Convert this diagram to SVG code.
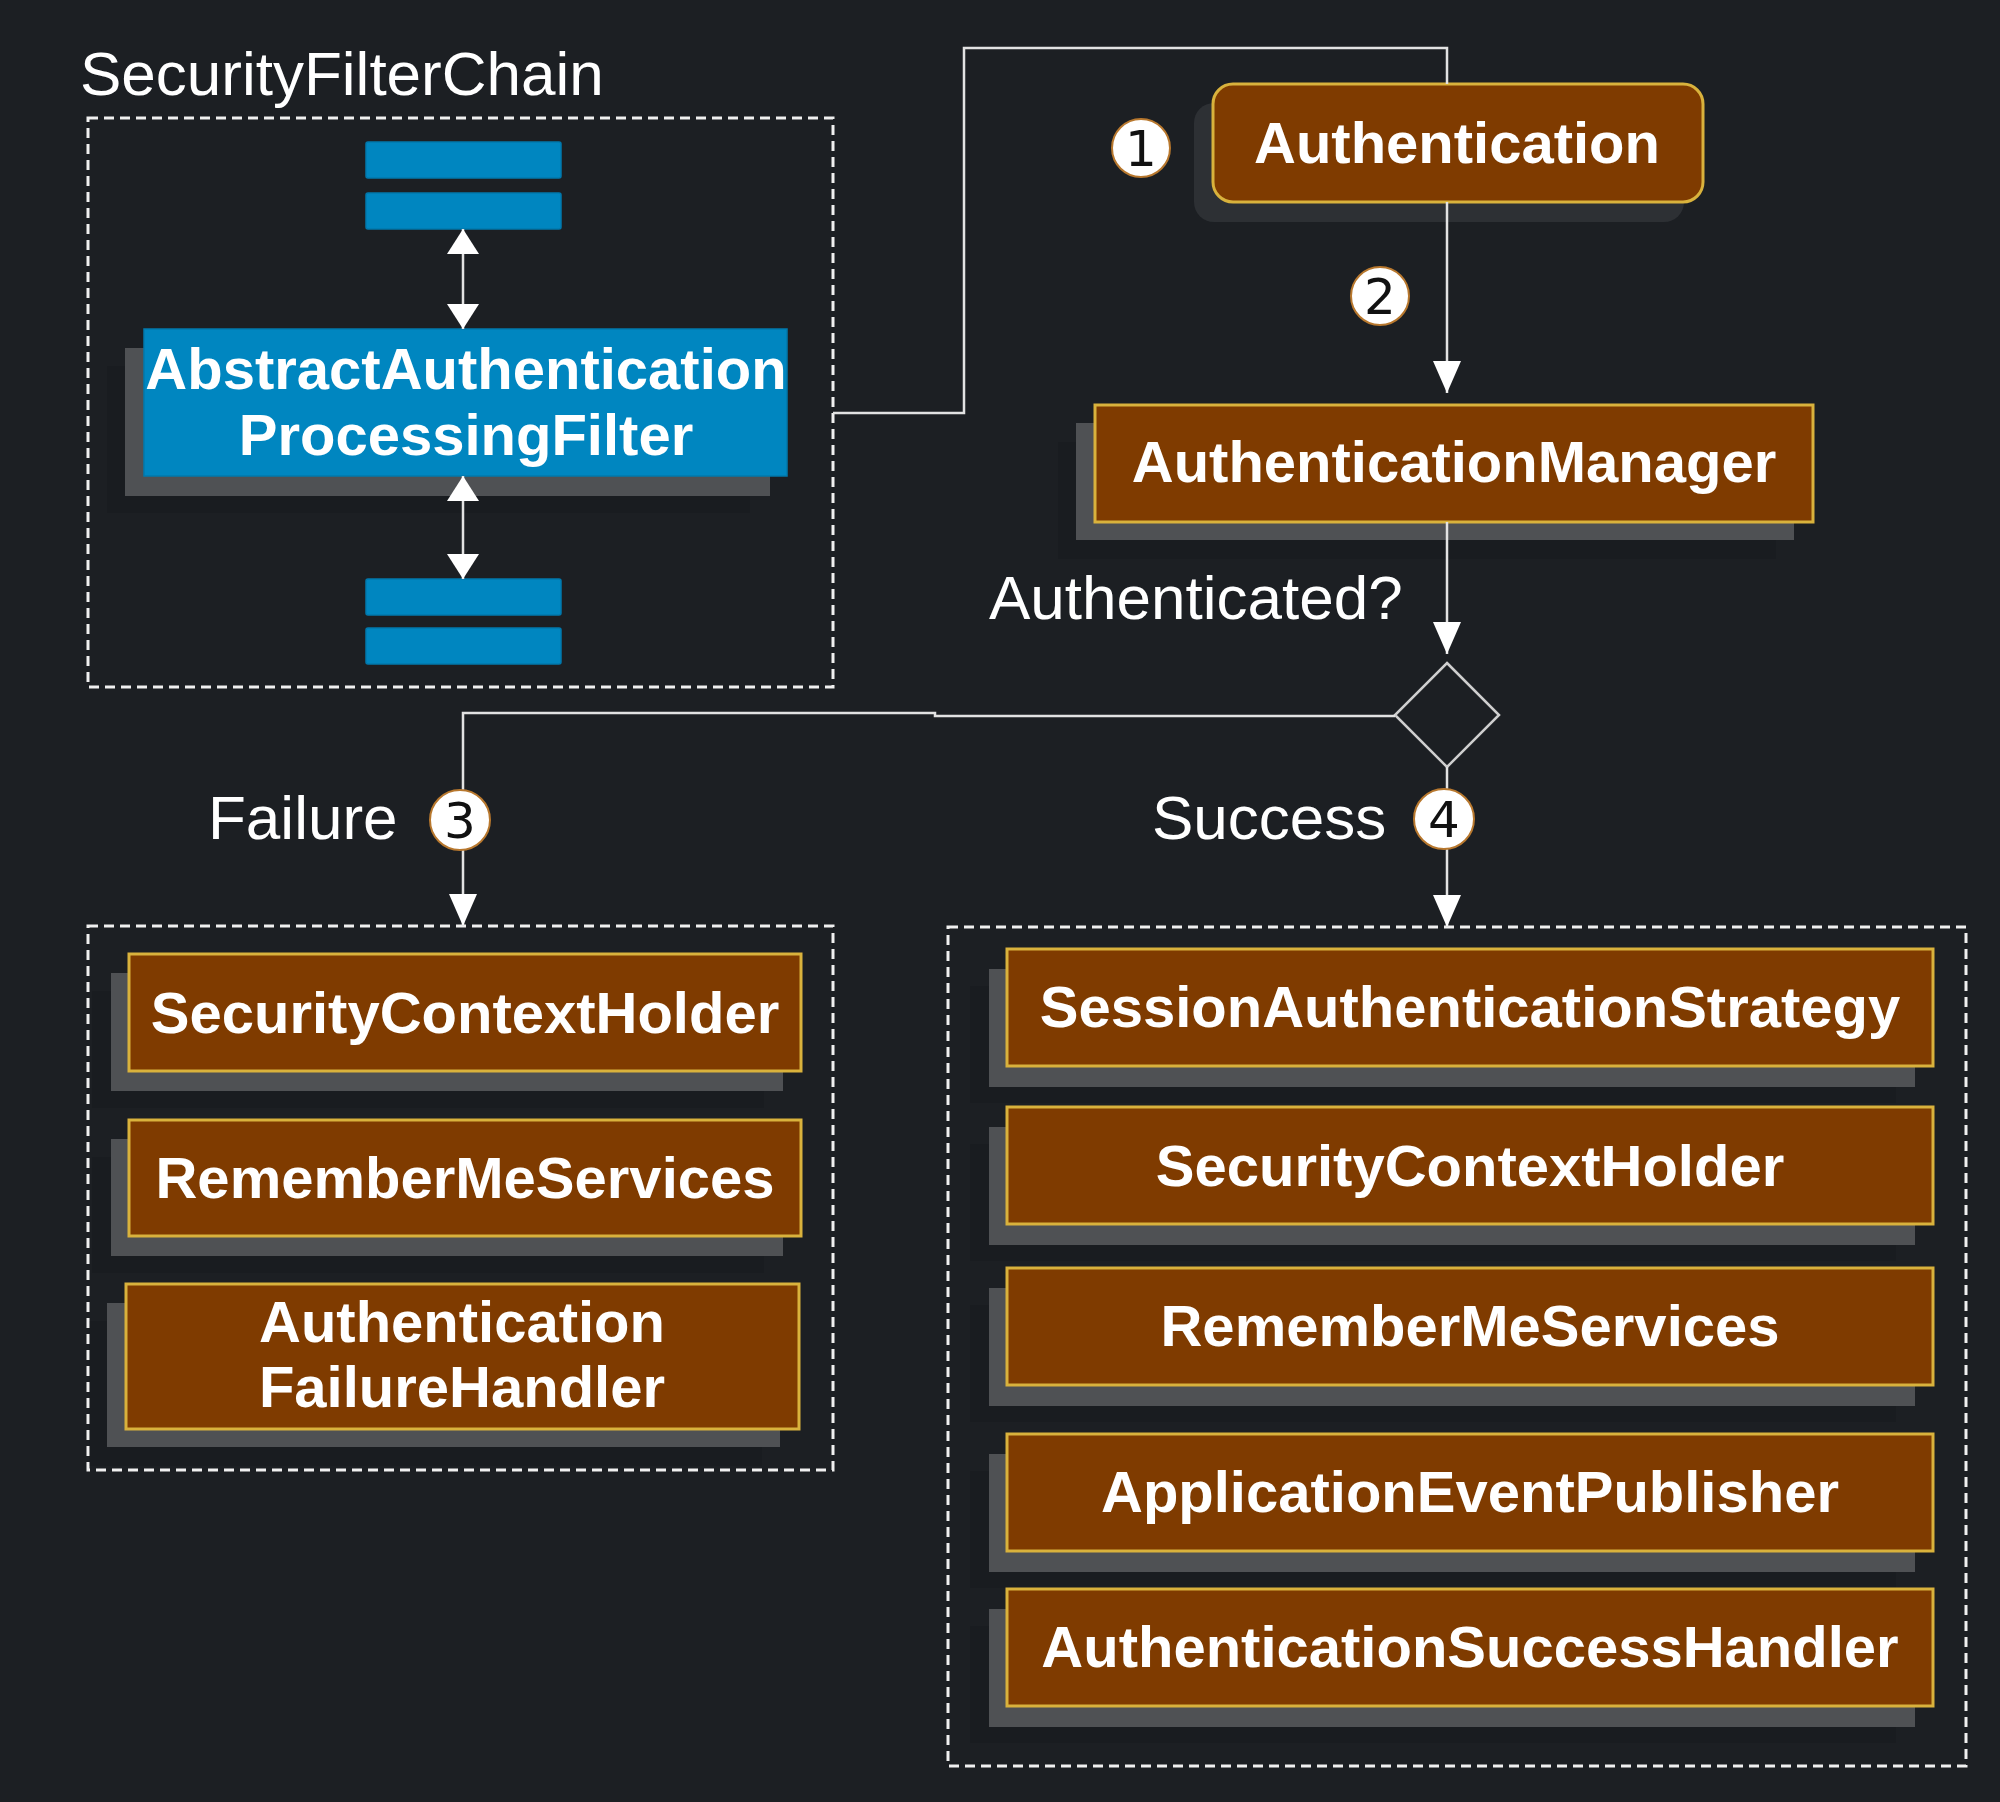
<svg xmlns="http://www.w3.org/2000/svg" width="2000" height="1802" viewBox="0 0 2000 1802">
<defs>
<style>
.bg{fill:#1c1f23}
.cont{fill:none;stroke:#f0f0f0;stroke-width:3;stroke-dasharray:10 6}
.blue{fill:#0086c0;stroke:#0079ad;stroke-width:1.5}
.brown{fill:#7f3b00;stroke:#d9b23c;stroke-width:3}
.sh{fill:#4f5154}
.sh2{fill:#2d3034}
.faint{fill:#000;opacity:0.08}
.lbl{font-family:"Liberation Sans",Arial,sans-serif;font-size:58px;font-weight:bold;fill:#ffffff;text-anchor:middle}
.title{font-family:"Liberation Sans",Arial,sans-serif;font-size:62px;fill:#ffffff}
.conn{fill:none;stroke:#e2e2e2;stroke-width:2.5}
.num{fill:#ffffff;stroke:#b8782e;stroke-width:2}
.numt{font-family:"DejaVu Sans",sans-serif;font-size:50px;fill:#111111;text-anchor:middle}
</style>
<marker id="arr" markerUnits="userSpaceOnUse" markerWidth="34" markerHeight="30" refX="32" refY="14" orient="auto">
<path d="M0,0 L32,14 L0,28 z" fill="#ffffff"/>
</marker>
<marker id="dbl" markerUnits="userSpaceOnUse" markerWidth="27" markerHeight="34" refX="25" refY="16" orient="auto-start-reverse">
<path d="M0,0 L25,16 L0,32 z" fill="#ffffff"/>
</marker>
</defs>
<rect class="bg" x="0" y="0" width="2000" height="1802"/>

<text class="title" x="80" y="95">SecurityFilterChain</text>
<rect id="chain" class="cont" x="88" y="118" width="745" height="569"/>
<rect id="failure-group" class="cont" x="88" y="926" width="745" height="544"/>
<rect id="success-group" class="cont" x="948" y="927" width="1018" height="839"/>

<g id="filter-top1"><rect class="blue" x="366" y="142" width="195" height="36" rx="2"/></g>
<g id="filter-top2"><rect class="blue" x="366" y="193" width="195" height="36" rx="2"/></g>
<g id="filter-bot1"><rect class="blue" x="366" y="579" width="195" height="36" rx="2"/></g>
<g id="filter-bot2"><rect class="blue" x="366" y="628" width="195" height="36" rx="2"/></g>

<g id="aapf">
<rect class="faint" x="107" y="366" width="643" height="147"/>
<rect class="sh" x="125" y="348" width="645" height="148"/>
<rect class="blue" x="144" y="329" width="643" height="147"/>
<text class="lbl" x="466" y="389">AbstractAuthentication</text>
<text class="lbl" x="466" y="455">ProcessingFilter</text>
</g>

<g id="authentication">
<rect class="sh2" x="1194" y="103" width="490" height="119" rx="20"/>
<rect class="brown" x="1213" y="84" width="490" height="118" rx="20"/>
<text class="lbl" x="1457" y="163">Authentication</text>
</g>

<g id="auth-manager">
<rect class="faint" x="1058" y="442" width="718" height="117"/>
<rect class="sh" x="1076" y="423" width="718" height="117"/>
<rect class="brown" x="1095" y="405" width="718" height="117"/>
<text class="lbl" x="1454" y="482">AuthenticationManager</text>
</g>

<text class="title" x="989" y="619">Authenticated?</text>
<g id="decision"><polygon points="1447,663 1499,715 1447,767 1395,715" fill="#1c1f23" stroke="#cfcfcf" stroke-width="2.5"/></g>

<g id="connectors">
<line class="conn" x1="463" y1="229" x2="463" y2="329" marker-start="url(#dbl)" marker-end="url(#dbl)"/>
<line class="conn" x1="463" y1="476" x2="463" y2="579" marker-start="url(#dbl)" marker-end="url(#dbl)"/>
<path class="conn" d="M833,413 H964 V48 H1447 V84"/>
<path class="conn" d="M1447,202 V393" marker-end="url(#arr)"/>
<path class="conn" d="M1447,522 V654" marker-end="url(#arr)"/>
<path class="conn" d="M1395,716 H935 V713 H463 V926" marker-end="url(#arr)"/>
<path class="conn" d="M1447,767 V927" marker-end="url(#arr)"/>
</g>

<text class="title" x="208" y="839">Failure</text>
<text class="title" x="1152" y="839">Success</text>

<g id="step1"><circle class="num" cx="1141" cy="148" r="29"/><text class="numt" x="1141" y="166">1</text></g>
<g id="step2"><circle class="num" cx="1380" cy="296" r="29"/><text class="numt" x="1380" y="314">2</text></g>
<g id="step3"><circle class="num" cx="460" cy="820" r="30"/><text class="numt" x="460" y="838">3</text></g>
<g id="step4"><circle class="num" cx="1444" cy="819" r="30"/><text class="numt" x="1444" y="837">4</text></g>

<g id="f-sch">
<rect class="faint" x="92" y="991" width="672" height="117"/>
<rect class="sh" x="111" y="973" width="672" height="118"/>
<rect class="brown" x="129" y="954" width="672" height="117"/>
<text class="lbl" x="465" y="1033">SecurityContextHolder</text>
</g>
<g id="f-rms">
<rect class="faint" x="92" y="1157" width="672" height="116"/>
<rect class="sh" x="111" y="1139" width="672" height="117"/>
<rect class="brown" x="129" y="1120" width="672" height="116"/>
<text class="lbl" x="465" y="1198">RememberMeServices</text>
</g>
<g id="f-afh">
<rect class="faint" x="89" y="1321" width="673" height="145"/>
<rect class="sh" x="107" y="1303" width="673" height="144"/>
<rect class="brown" x="126" y="1284" width="673" height="145"/>
<text class="lbl" x="462" y="1342">Authentication</text>
<text class="lbl" x="462" y="1407">FailureHandler</text>
</g>

<g id="s-sas">
<rect class="faint" x="970" y="986" width="926" height="117"/>
<rect class="sh" x="989" y="969" width="926" height="118"/>
<rect class="brown" x="1007" y="949" width="926" height="117"/>
<text class="lbl" x="1470" y="1027">SessionAuthenticationStrategy</text>
</g>
<g id="s-sch">
<rect class="faint" x="970" y="1144" width="926" height="117"/>
<rect class="sh" x="989" y="1127" width="926" height="118"/>
<rect class="brown" x="1007" y="1107" width="926" height="117"/>
<text class="lbl" x="1470" y="1186">SecurityContextHolder</text>
</g>
<g id="s-rms">
<rect class="faint" x="970" y="1305" width="926" height="117"/>
<rect class="sh" x="989" y="1288" width="926" height="118"/>
<rect class="brown" x="1007" y="1268" width="926" height="117"/>
<text class="lbl" x="1470" y="1346">RememberMeServices</text>
</g>
<g id="s-aep">
<rect class="faint" x="970" y="1471" width="926" height="117"/>
<rect class="sh" x="989" y="1454" width="926" height="118"/>
<rect class="brown" x="1007" y="1434" width="926" height="117"/>
<text class="lbl" x="1470" y="1512">ApplicationEventPublisher</text>
</g>
<g id="s-ash">
<rect class="faint" x="970" y="1626" width="926" height="117"/>
<rect class="sh" x="989" y="1609" width="926" height="118"/>
<rect class="brown" x="1007" y="1589" width="926" height="117"/>
<text class="lbl" x="1470" y="1667">AuthenticationSuccessHandler</text>
</g>
</svg>
